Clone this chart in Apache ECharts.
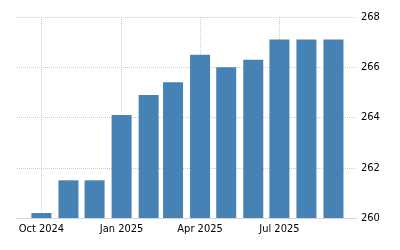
<!DOCTYPE html>
<html><head><meta charset="utf-8">
<script src="https://cdn.jsdelivr.net/npm/echarts@6/dist/echarts.min.js"></script>
<style>html,body{margin:0;padding:0;background:#fff}#c{width:400px;height:250px}</style>
</head><body><div id="c"></div>
<script>
const months = ['2024-10-01','2024-11-01','2024-12-01','2025-01-01','2025-02-01','2025-03-01','2025-04-01','2025-05-01','2025-06-01','2025-07-01','2025-08-01','2025-09-01'];
const values = [260.2, 261.5, 261.5, 264.1, 264.9, 265.4, 266.5, 266.0, 266.3, 267.1, 267.1, 267.1];
const xTicks = ['2024-10-01','2025-01-01','2025-04-01','2025-07-01'];
const yTicks = [260, 262, 264, 266, 268];
const monthNames = ['Jan','Feb','Mar','Apr','May','Jun','Jul','Aug','Sep','Oct','Nov','Dec'];
const ts = s => { const [y,m,d] = s.split('-').map(Number); return Date.UTC(y, m-1, d); };
const chart = echarts.init(document.getElementById('c'), null, {renderer:'canvas'});
const font = {fontFamily:'"DejaVu Sans Condensed", "DejaVu Sans"', fontSize:11, color:'#000'};
chart.setOption({
  animation:false,
  grid:{left:17, right:43, top:17, bottom:32, containLabel:false},
  xAxis:{
    type:'value',
    min: ts('2024-09-03'), max: ts('2025-09-28'),
    axisLine:{show:true, lineStyle:{color:'#ccc', type:'dotted', width:1}},
    axisTick:{show:false, customValues: xTicks.map(ts)},
    axisLabel:Object.assign({customValues: xTicks.map(ts), margin:6, showMinLabel:true, showMaxLabel:true,
      formatter: v => { const d = new Date(v); return monthNames[d.getUTCMonth()] + ' ' + d.getUTCFullYear(); }}, font),
    splitLine:{show:true, lineStyle:{color:'#ccc', type:'dotted', width:1}}
  },
  yAxis:{
    type:'value', position:'right', min:yTicks[0], max:yTicks[yTicks.length-1], interval:2,
    axisLine:{show:false}, axisTick:{show:false},
    axisLabel:Object.assign({margin:4}, font),
    splitLine:{show:true, lineStyle:{color:'#ccc', type:'dotted', width:1}}
  },
  series:[{
    type:'bar', barWidth:20,
    itemStyle:{color:'#4682B4'},
    data: months.map((m,i) => [ts(m), values[i]])
  }]
});
</script></body></html>
